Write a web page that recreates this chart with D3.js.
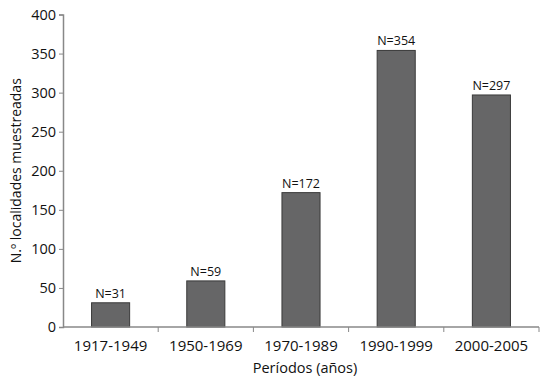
<!DOCTYPE html>
<html><head><meta charset="utf-8">
<script src="https://cdn.jsdelivr.net/npm/d3@7"></script>
<style>body{margin:0;background:#fff}svg{display:block}text{font-family:"Open Sans",sans-serif;fill:#111}</style>
</head><body><svg id="c" width="548" height="383"></svg>
<script>
const categories = ["1917-1949","1950-1969","1970-1989","1990-1999","2000-2005"];
const values = [31,59,172,354,297];
const labels = ["N=31","N=59","N=172","N=354","N=297"];
const yTicks = [0,50,100,150,200,250,300,350,400];

const svg = d3.select("#c");
const x0 = 63, x1 = 539, yTop = 14.5, yBot = 327;
const x = d3.scaleBand().domain(categories).range([x0,x1]).paddingInner(0).paddingOuter(0);
const y = d3.scaleLinear().domain([0,400]).range([yBot,yTop]);
const bw = x.bandwidth()*0.4;

svg.selectAll("rect.bar").data(values).enter().append("rect")
  .attr("x",(d,i)=>x(categories[i])+x.bandwidth()/2-bw/2)
  .attr("y",d=>y(d)).attr("width",bw).attr("height",d=>yBot-y(d))
  .attr("fill","#666667").attr("stroke","#3a3a3a").attr("stroke-width",1);

svg.selectAll("text.lab").data(values).enter().append("text")
  .attr("x",(d,i)=>x(categories[i])+x.bandwidth()/2)
  .attr("y",d=>y(d)-5).attr("text-anchor","middle").attr("font-size",12.5)
  .text((d,i)=>labels[i]);

// y axis
const ya = svg.append("g").attr("transform",`translate(${x0},0)`)
  .call(d3.axisLeft(y).tickValues(yTicks).tickSize(4).tickPadding(3));
ya.select(".domain").attr("stroke","#888").attr("stroke-width",1.5);
ya.selectAll(".tick line").attr("stroke","#888");
ya.selectAll("text").attr("font-size",14.5).attr("fill","#111");

// x axis
const xa = svg.append("g").attr("transform",`translate(0,${yBot})`);
xa.append("line").attr("x1",x0).attr("x2",x1).attr("y1",0).attr("y2",0).attr("stroke","#888").attr("stroke-width",1.5);
const bounds = categories.map(c=>x(c)+x.bandwidth());
xa.selectAll("line.t").data(bounds).enter().append("line")
  .attr("x1",d=>d).attr("x2",d=>d).attr("y1",0).attr("y2",5).attr("stroke","#888");
xa.selectAll("text").data(categories).enter().append("text")
  .attr("x",d=>x(d)+x.bandwidth()/2).attr("y",24).attr("text-anchor","middle")
  .attr("font-size",15).text(d=>d);

svg.append("text").attr("x",(x0+x1)/2+4).attr("y",373).attr("text-anchor","middle")
  .attr("font-size",14.5).text("Períodos (años)");
svg.append("text").attr("transform",`translate(21,${(yTop+yBot)/2}) rotate(-90)`)
  .attr("text-anchor","middle").attr("font-size",14).text("N.º localidades muestreadas");
</script></body></html>
